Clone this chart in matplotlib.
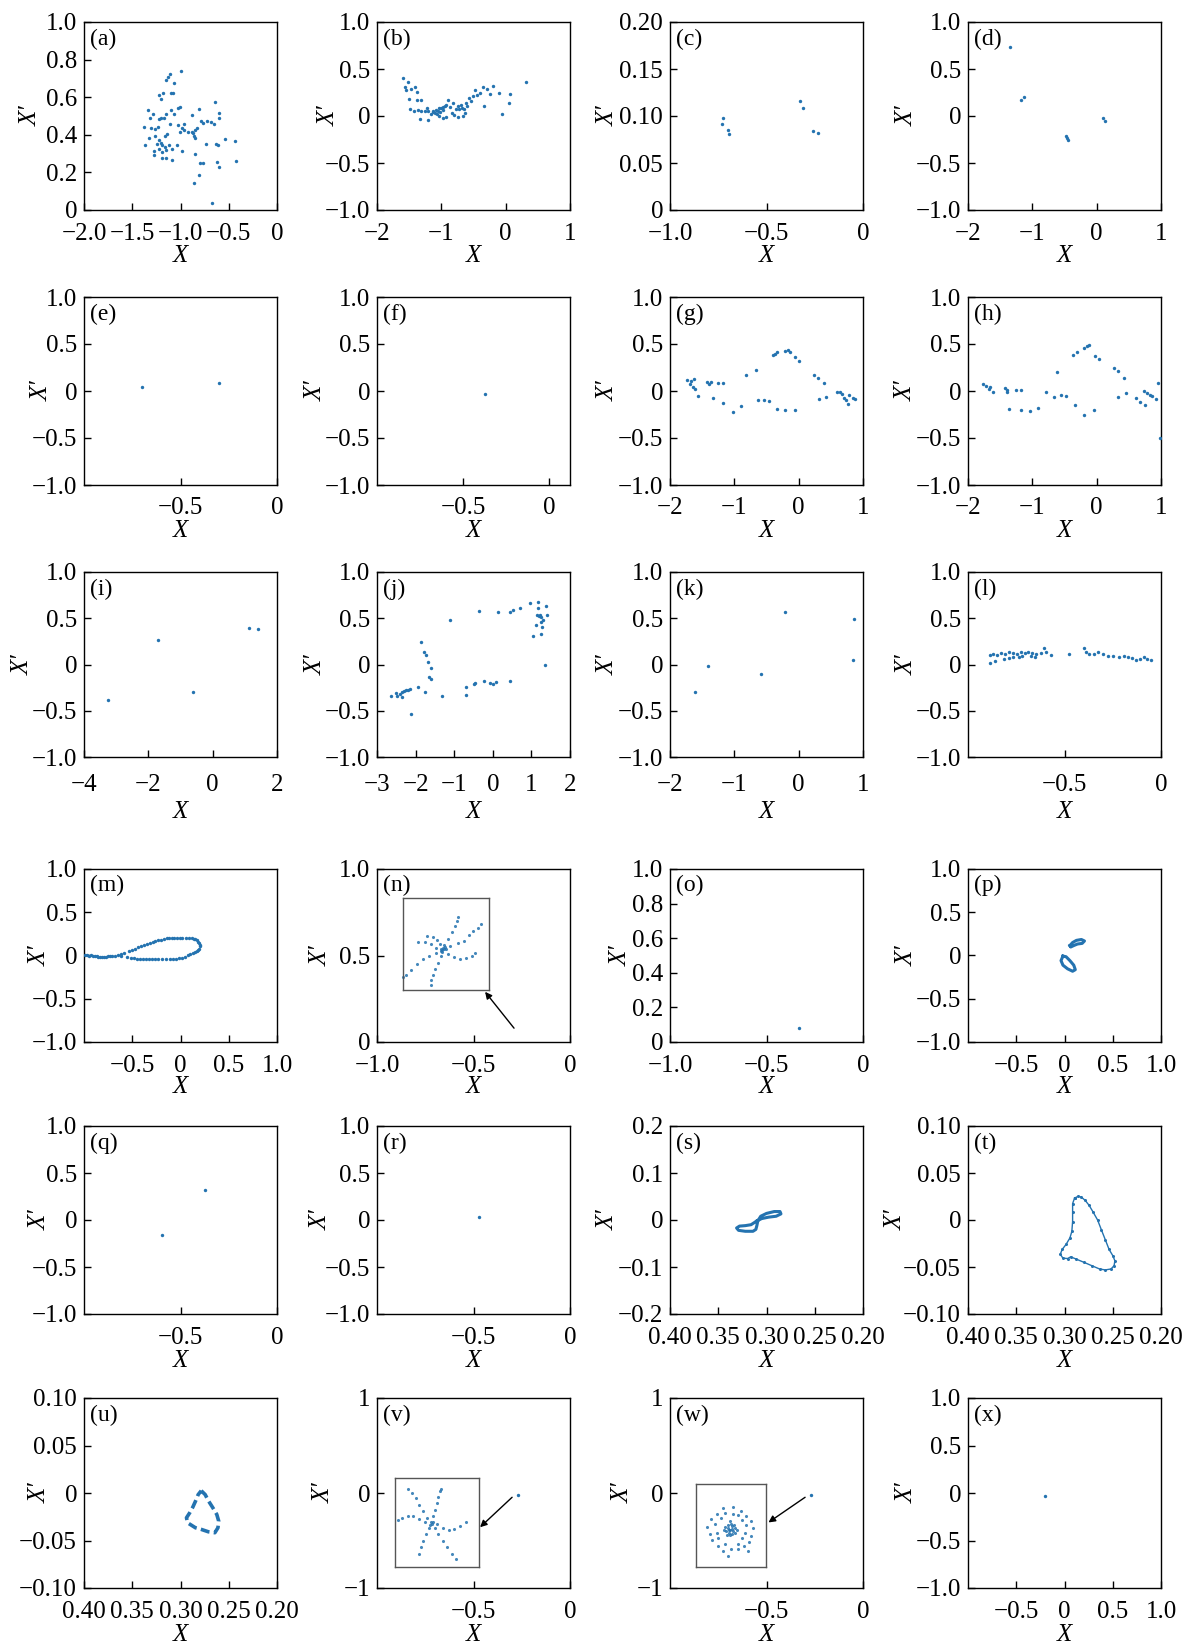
import numpy as np
import matplotlib.pyplot as plt

plt.rcParams["font.family"] = ["Liberation Serif", "DejaVu Serif"]
plt.rcParams["font.size"] = 18
plt.rcParams["axes.unicode_minus"] = True

DOT = "#2473b0"

# ---- data (X, X') ----
a_pts = [(-1.00, 0.738), (-1.147, 0.691), (-1.127, 0.705), (-1.111, 0.722), (-1.066, 0.674),
         (-1.227, 0.613), (-1.179, 0.622), (-1.103, 0.623), (-1.074, 0.625), (-1.203, 0.590),
         (-1.006, 0.547), (-1.026, 0.543), (-1.095, 0.530), (-1.336, 0.530), (-1.28, 0.509),
         (-1.147, 0.512), (-1.066, 0.509), (-0.809, 0.538), (-0.644, 0.573), (-0.604, 0.491),
         (-0.596, 0.517), (-1.316, 0.491), (-1.199, 0.491), (-1.227, 0.483), (-1.175, 0.488),
         (-0.885, 0.505), (-1.107, 0.457), (-1.026, 0.451), (-0.966, 0.460), (-0.789, 0.474),
         (-0.768, 0.465), (-0.724, 0.474), (-0.684, 0.469), (-0.656, 0.457), (-1.376, 0.443),
         (-1.308, 0.434), (-1.235, 0.443), (-1.268, 0.431), (-0.918, 0.413), (-0.885, 0.417),
         (-0.845, 0.427), (-0.825, 0.434), (-0.865, 0.396), (-0.845, 0.382), (-0.873, 0.408),
         (-1.006, 0.417), (-0.966, 0.427), (-1.328, 0.382), (-1.26, 0.396), (-1.163, 0.396),
         (-1.139, 0.405), (-1.227, 0.370), (-1.203, 0.358), (-1.187, 0.344), (-1.159, 0.335),
         (-1.247, 0.349), (-1.227, 0.326), (-1.276, 0.316), (-1.368, 0.347), (-1.115, 0.344),
         (-1.087, 0.323), (-1.038, 0.344), (-0.982, 0.313), (-0.543, 0.378), (-0.435, 0.366),
         (-0.732, 0.349), (-0.636, 0.349), (-0.608, 0.344), (-0.853, 0.297), (-1.147, 0.318),
         (-1.195, 0.306), (-1.276, 0.295), (-1.195, 0.278), (-1.147, 0.274), (-1.087, 0.266),
         (-0.624, 0.257), (-0.604, 0.231), (-0.423, 0.260), (-0.797, 0.252), (-0.765, 0.250),
         (-0.805, 0.188), (-0.857, 0.141), (-0.676, 0.035), (-0.986, 0.434)]

b_pts = [(-1.598, 0.399), (-1.52, 0.358), (-1.55, 0.278), (-1.56, 0.306), (-1.47, 0.285),
         (-1.41, 0.306), (-1.38, 0.26), (-1.50, 0.18), (-1.38, 0.17), (-1.48, 0.07),
         (-1.43, 0.052), (-1.37, 0.062), (-1.31, 0.05), (-1.25, 0.05), (-1.2, 0.05),
         (-1.13, 0.05), (-1.05, 0.05), (-1.33, -0.035), (-1.2, -0.04), (-1.31, 0.17),
         (-1.13, 0.04), (-1.08, 0.06), (-1.04, 0.08), (-1.0, 0.09), (-0.97, 0.1),
         (-0.95, 0.11), (-0.92, 0.12), (-1.1, 0.03), (-1.06, 0.02), (-1.02, 0.04),
         (-0.98, 0.06), (-1.04, 0.0), (-0.98, -0.017), (-0.92, -0.007), (-0.89, 0.17),
         (-0.82, 0.14), (-0.83, 0.035), (-0.77, 0.07), (-0.74, 0.104), (-0.72, 0.07),
         (-0.8, 0.007), (-0.74, -0.007), (-0.66, 0.0), (-0.68, 0.087), (-0.64, 0.07),
         (-0.6, 0.104), (-0.61, 0.14), (-0.57, 0.19), (-0.51, 0.21), (-0.54, 0.156),
         (-0.47, 0.278), (-0.40, 0.25), (-0.35, 0.306), (-0.29, 0.285), (-0.2, 0.32),
         (-0.11, 0.243), (-0.33, 0.11), (-0.05, 0.017), (0.06, 0.236), (0.05, 0.14),
         (0.32, 0.365), (-1.16, 0.02), (-1.22, 0.08), (-0.86, 0.1), (-0.7, 0.12),
         (-0.63, 0.03), (-0.45, 0.22), (-0.25, 0.23)]

c_pts = [(-0.731, 0.0913), (-0.723, 0.098), (-0.697, 0.085), (-0.693, 0.081),
         (-0.327, 0.116), (-0.309, 0.109), (-0.259, 0.084), (-0.235, 0.082)]

d_pts = [(-1.18, 0.17), (-1.13, 0.2), (-0.47, -0.21), (-0.46, -0.23), (-0.45, -0.25),
         (0.1, -0.02), (0.13, -0.05), (-1.35, 0.73)]

e_pts = [(-0.70, 0.045), (-0.30, 0.09)]
f_pts = [(-0.375, -0.03)]

g_pts = [(-1.73, 0.12), (-1.67, 0.11), (-1.63, 0.13), (-1.69, 0.07), (-1.65, 0.045),
         (-1.61, 0.017), (-1.57, -0.05), (-1.42, 0.094), (-1.37, 0.094), (-1.39, 0.07),
         (-1.25, 0.087), (-1.18, 0.087), (-1.33, -0.07), (-1.17, -0.13), (-1.02, -0.22),
         (-0.89, -0.16), (-0.82, 0.17), (-0.66, 0.22), (-0.63, -0.1), (-0.54, -0.1),
         (-0.46, -0.11), (-0.4, 0.38), (-0.37, 0.39), (-0.34, 0.41), (-0.21, 0.43),
         (-0.16, 0.44), (-0.14, 0.42), (-0.05, 0.36), (0.01, 0.32), (-0.33, -0.19),
         (-0.21, -0.2), (-0.06, -0.2), (0.24, 0.17), (0.3, 0.14), (0.40, 0.08),
         (0.31, -0.08), (0.43, -0.06), (0.6, -0.01), (0.64, -0.01), (0.67, -0.035),
         (0.7, -0.07), (0.73, -0.1), (0.76, -0.14), (0.79, -0.045), (0.84, -0.07),
         (0.87, -0.09)]

h_pts = [(-1.77, 0.07), (-1.72, 0.05), (-1.66, 0.045), (-1.67, 0.024), (-1.61, -0.01),
         (-1.43, 0.035), (-1.40, 0.007), (-1.39, -0.01), (-1.25, 0.007), (-1.18, 0.01),
         (-1.36, -0.19), (-1.18, -0.2), (-1.03, -0.21), (-0.91, -0.18), (-0.79, -0.01),
         (-0.67, -0.06), (-0.55, -0.045), (-0.48, -0.05), (-0.62, 0.2), (-0.37, 0.38),
         (-0.31, 0.41), (-0.19, 0.46), (-0.15, 0.48), (-0.12, 0.49), (-0.02, 0.37),
         (0.04, 0.34), (-0.33, -0.15), (-0.19, -0.26), (-0.04, -0.2), (0.27, 0.24),
         (0.33, 0.21), (0.43, 0.14), (0.33, -0.06), (0.46, -0.025), (0.61, -0.07),
         (0.67, -0.12), (0.75, -0.15), (0.73, 0.0), (0.79, -0.02), (0.83, -0.04),
         (0.86, -0.05), (0.93, -0.08), (0.96, 0.09), (0.98, -0.5)]

i_pts = [(-3.25, -0.38), (-1.71, 0.27), (-0.62, -0.30), (1.12, 0.40), (1.40, 0.38)]

j_pts = [(-2.65, -0.34), (-2.5, -0.31), (-2.47, -0.34), (-2.4, -0.32), (-2.35, -0.3),
         (-2.3, -0.29), (-2.25, -0.28), (-2.2, -0.28), (-2.15, -0.27), (-2.35, -0.35),
         (-2.12, -0.54), (-1.95, -0.24), (-1.85, 0.24), (-1.78, 0.13), (-1.73, 0.10),
         (-1.67, 0.03), (-1.6, -0.04), (-1.65, -0.14), (-1.6, -0.16), (-1.75, -0.30),
         (-1.32, -0.34), (-1.1, 0.48), (-0.7, -0.24), (-0.7, -0.33), (-0.5, -0.21),
         (-0.45, -0.2), (-0.23, -0.18), (-0.07, -0.2), (0.0, -0.21), (0.07, -0.19),
         (0.45, -0.18), (-0.37, 0.58), (0.13, 0.57), (0.45, 0.57), (0.53, 0.59),
         (0.7, 0.61), (0.97, 0.66), (1.17, 0.68), (1.17, 0.61), (1.15, 0.53),
         (1.2, 0.52), (1.23, 0.53), (1.25, 0.51), (1.3, 0.48), (1.25, 0.46),
         (1.37, 0.63), (1.4, 0.54), (1.13, 0.43), (1.28, 0.41), (1.05, 0.31),
         (1.25, 0.33), (1.35, -0.01)]

k_pts = [(-1.61, -0.30), (-1.41, -0.02), (-0.58, -0.10), (-0.21, 0.57), (0.86, 0.49), (0.84, 0.045)]

l_pts = [(-0.886, 0.104), (-0.871, 0.115), (-0.851, 0.104), (-0.827, 0.125), (-0.807, 0.115),
         (-0.787, 0.132), (-0.767, 0.125), (-0.747, 0.115), (-0.727, 0.132), (-0.707, 0.122),
         (-0.687, 0.139), (-0.667, 0.125), (-0.647, 0.115), (-0.624, 0.125), (-0.886, 0.02),
         (-0.86, 0.035), (-0.815, 0.055), (-0.79, 0.07), (-0.765, 0.08), (-0.735, 0.08),
         (-0.72, 0.09), (-0.675, 0.09), (-0.655, 0.08), (-0.607, 0.18), (-0.598, 0.13),
         (-0.572, 0.1), (-0.478, 0.115), (-0.398, 0.18), (-0.388, 0.13), (-0.373, 0.115),
         (-0.349, 0.115), (-0.329, 0.13), (-0.299, 0.115), (-0.273, 0.097), (-0.249, 0.09),
         (-0.219, 0.08), (-0.193, 0.09), (-0.169, 0.08), (-0.149, 0.07), (-0.129, 0.045),
         (-0.110, 0.062), (-0.090, 0.08), (-0.070, 0.055), (-0.050, 0.045)]

m_pts = [(-0.99, 0.0), (-0.97, 0.0), (-0.95, -0.005), (-0.93, 0.0), (-0.91, -0.005),
         (-0.89, -0.008), (-0.87, -0.01), (-0.85, -0.012), (-0.83, -0.012), (-0.81, -0.015),
         (-0.79, -0.015), (-0.77, -0.012), (-0.75, -0.01), (-0.73, -0.01), (-0.71, -0.008),
         (-0.68, -0.01), (-0.65, 0.0), (-0.62, 0.015), (-0.59, 0.028), (-0.53, 0.056),
         (-0.50, 0.068), (-0.47, 0.08), (-0.44, 0.093), (-0.41, 0.105), (-0.38, 0.12),
         (-0.35, 0.133), (-0.32, 0.145), (-0.29, 0.157), (-0.26, 0.166), (-0.23, 0.175),
         (-0.20, 0.184), (-0.17, 0.192), (-0.14, 0.197), (-0.115, 0.2), (-0.09, 0.2),
         (-0.066, 0.2), (-0.04, 0.2), (-0.006, 0.2), (0.02, 0.2), (0.054, 0.2),
         (0.085, 0.2), (0.115, 0.197), (0.14, 0.192), (0.155, 0.185), (0.17, 0.174),
         (0.183, 0.16), (0.195, 0.143), (0.203, 0.126), (0.202, 0.105), (0.195, 0.08),
         (0.182, 0.066), (0.167, 0.056), (0.147, 0.042), (0.127, 0.028), (0.1, 0.013),
         (0.074, 0.0), (0.044, -0.012), (0.014, -0.024), (-0.016, -0.03), (-0.046, -0.035),
         (-0.08, -0.04), (-0.107, -0.042), (-0.147, -0.042), (-0.187, -0.042), (-0.228, -0.042),
         (-0.268, -0.042), (-0.298, -0.042), (-0.328, -0.042), (-0.358, -0.042), (-0.388, -0.042),
         (-0.42, -0.038), (-0.449, -0.035), (-0.48, -0.032), (-0.509, -0.028), (-0.557, -0.014),
         (-0.62, -0.007)]

o_pts = [(-0.33, 0.08)]
q_pts = [(-0.598, -0.156), (-0.372, 0.323)]
r_pts = [(-0.47, 0.035)]
v_pts = [(-0.27, -0.02)]
w_pts = [(-0.27, -0.024)]
x_pts = [(-0.2, -0.03)]

# closed orbits
p_loop1 = [(0.056, 0.115), (0.084, 0.150), (0.124, 0.175), (0.175, 0.185), (0.207, 0.168),
           (0.183, 0.140), (0.135, 0.133), (0.096, 0.115), (0.064, 0.098), (0.056, 0.115)]
p_loop2 = [(-0.016, -0.007), (-0.036, -0.059), (-0.016, -0.112), (0.032, -0.154), (0.084, -0.182),
           (0.112, -0.164), (0.096, -0.112), (0.056, -0.059), (0.016, -0.014), (-0.016, -0.007)]

s_curve = [(0.310, -0.002), (0.316, -0.010), (0.322, -0.012), (0.328, -0.013), (0.331, -0.017),
           (0.329, -0.022), (0.322, -0.024), (0.314, -0.024), (0.311, -0.020), (0.310, -0.012),
           (0.309, -0.002), (0.306, 0.008), (0.300, 0.014), (0.292, 0.018), (0.286, 0.018),
           (0.285, 0.013), (0.290, 0.008), (0.298, 0.006), (0.305, 0.003), (0.310, -0.002)]

t_curve = [(0.2896, 0.0233), (0.2857, 0.0253), (0.2825, 0.0243), (0.2785, 0.0208), (0.2745, 0.0156),
           (0.2705, 0.0087), (0.2657, 0.0), (0.2618, -0.0104), (0.2578, -0.0208), (0.2538, -0.0313),
           (0.2498, -0.0382), (0.2478, -0.0434), (0.2486, -0.0486), (0.2518, -0.0521), (0.2578, -0.0531),
           (0.2637, -0.0521), (0.2717, -0.0486), (0.2797, -0.0451), (0.2876, -0.0417), (0.2936, -0.0392),
           (0.2968, -0.041), (0.3016, -0.0406), (0.3044, -0.0365), (0.3024, -0.0313), (0.2984, -0.026),
           (0.2944, -0.0191), (0.2924, -0.0122), (0.2916, -0.0017), (0.2916, 0.0087), (0.2916, 0.0174),
           (0.2896, 0.0233)]

u_curve = [(0.2785, 0.0024), (0.2744, -0.0017), (0.2712, -0.008), (0.2664, -0.0157), (0.2624, -0.0226),
           (0.2604, -0.0296), (0.2612, -0.0366), (0.2644, -0.0418), (0.2712, -0.0408), (0.2785, -0.0383),
           (0.2845, -0.0366), (0.2926, -0.0314), (0.2938, -0.0261), (0.2905, -0.0209), (0.2873, -0.015),
           (0.2845, -0.0087), (0.2817, -0.0017), (0.2785, 0.0024)]

# zoomed insets, points in inset-box fractions
n_arms = [[(0.46, 0.44), (0.48, 0.49), (0.53, 0.56), (0.57, 0.63), (0.61, 0.70), (0.63, 0.75), (0.64, 0.80)],
          [(0.55, 0.48), (0.64, 0.51), (0.71, 0.54), (0.77, 0.60), (0.82, 0.64), (0.87, 0.68), (0.91, 0.72)],
          [(0.53, 0.39), (0.60, 0.36), (0.66, 0.34), (0.73, 0.35), (0.80, 0.37), (0.84, 0.40)],
          [(0.44, 0.37), (0.41, 0.30), (0.37, 0.23), (0.35, 0.17), (0.33, 0.11), (0.33, 0.06)],
          [(0.39, 0.41), (0.30, 0.37), (0.24, 0.34), (0.17, 0.29), (0.10, 0.22), (0.04, 0.17), (0.0, 0.14)],
          [(0.39, 0.46), (0.33, 0.50), (0.26, 0.52), (0.18, 0.52)],
          [(0.43, 0.50), (0.40, 0.55), (0.35, 0.58), (0.28, 0.59)],
          [(0.45, 0.45), (0.47, 0.46), (0.48, 0.45), (0.46, 0.42), (0.44, 0.43), (0.49, 0.47), (0.50, 0.45)]]

v_arms = [[(0.38, 0.55), (0.34, 0.63), (0.29, 0.70), (0.25, 0.77), (0.20, 0.83), (0.15, 0.88)],
          [(0.45, 0.57), (0.48, 0.64), (0.50, 0.72), (0.52, 0.79), (0.54, 0.85), (0.55, 0.88)],
          [(0.50, 0.48), (0.57, 0.44), (0.64, 0.42), (0.71, 0.43), (0.78, 0.46), (0.85, 0.50)],
          [(0.48, 0.44), (0.52, 0.37), (0.57, 0.29), (0.62, 0.22), (0.68, 0.15), (0.73, 0.09)],
          [(0.41, 0.44), (0.37, 0.37), (0.34, 0.29), (0.31, 0.22), (0.29, 0.15)],
          [(0.36, 0.50), (0.29, 0.54), (0.22, 0.57), (0.15, 0.57), (0.08, 0.55), (0.04, 0.53)],
          [(0.43, 0.50), (0.44, 0.48), (0.42, 0.47), (0.45, 0.51)]]

w_arms = [[(0.39, 0.71), (0.53, 0.72), (0.64, 0.68), (0.30, 0.64), (0.42, 0.65), (0.60, 0.63),
           (0.72, 0.62), (0.21, 0.58), (0.35, 0.59), (0.65, 0.57), (0.79, 0.55), (0.16, 0.48),
           (0.27, 0.52), (0.71, 0.50), (0.81, 0.47), (0.20, 0.40), (0.30, 0.41), (0.70, 0.41),
           (0.79, 0.37), (0.23, 0.32), (0.32, 0.35), (0.65, 0.35), (0.75, 0.30), (0.32, 0.25),
           (0.41, 0.28), (0.60, 0.28), (0.68, 0.25), (0.38, 0.19), (0.50, 0.21), (0.60, 0.21),
           (0.74, 0.19), (0.45, 0.13), (0.53, 0.64)],
          [(0.49, 0.45), (0.45, 0.47), (0.53, 0.43), (0.47, 0.41), (0.51, 0.49), (0.43, 0.43),
           (0.55, 0.47), (0.50, 0.52), (0.48, 0.38), (0.42, 0.48), (0.56, 0.41), (0.46, 0.50),
           (0.52, 0.40), (0.40, 0.45), (0.58, 0.45), (0.49, 0.55), (0.44, 0.39), (0.54, 0.51),
           (0.47, 0.44), (0.51, 0.46)]]

# inset box [x0, y0, w, h] in data units, arrow (tail, head)
insets = {
    "n": ([-0.867, 0.30, 0.447, 0.53], n_arms, ((-0.29, 0.08), (-0.44, 0.29))),
    "v": ([-0.906, -0.777, 0.432, 0.934], v_arms, ((-0.30, -0.045), (-0.466, -0.36))),
    "w": ([-0.865, -0.777, 0.363, 0.871], w_arms, ((-0.30, -0.045), (-0.49, -0.31))),
}

# axis settings: (limits, ticks, decimals)
X2 = ((-2, 1), [-2, -1, 0, 1], 0)
X1 = ((-1, 0), [-1, -0.5, 0], 1)
XH = ((-1, 0), [-0.5, 0], 1)
XS = ((-1, 1), [-0.5, 0, 0.5, 1], 1)
XR = ((0.4, 0.2), [0.4, 0.35, 0.3, 0.25, 0.2], 2)
Y1 = ((-1, 1), [-1, -0.5, 0, 0.5, 1], 1)
Y01 = ((0, 1), [0, 0.2, 0.4, 0.6, 0.8, 1.0], 1)
Y01n = ((0, 1), [0, 0.5, 1.0], 1)
Yint = ((-1, 1), [-1, 0, 1], 0)
Ysmall = ((-0.1, 0.1), [-0.1, -0.05, 0, 0.05, 0.1], 2)

panels = [
    ("a", a_pts, ((-2, 0), [-2, -1.5, -1, -0.5, 0], 1), Y01),
    ("b", b_pts, X2, Y1),
    ("c", c_pts, X1, ((0, 0.2), [0, 0.05, 0.1, 0.15, 0.2], 2)),
    ("d", d_pts, X2, Y1),
    ("e", e_pts, XH, Y1),
    ("f", f_pts, ((-1, 0.12), [-0.5, 0], 1), Y1),
    ("g", g_pts, X2, Y1),
    ("h", h_pts, X2, Y1),
    ("i", i_pts, ((-4, 2), [-4, -2, 0, 2], 0), Y1),
    ("j", j_pts, ((-3, 2), [-3, -2, -1, 0, 1, 2], 0), Y1),
    ("k", k_pts, X2, Y1),
    ("l", l_pts, XH, Y1),
    ("m", m_pts, XS, Y1),
    ("n", [], X1, Y01n),
    ("o", o_pts, X1, Y01),
    ("p", [], XS, Y1),
    ("q", q_pts, XH, Y1),
    ("r", r_pts, XH, Y1),
    ("s", [], XR, ((-0.2, 0.2), [-0.2, -0.1, 0, 0.1, 0.2], 1)),
    ("t", [], XR, Ysmall),
    ("u", [], XR, Ysmall),
    ("v", v_pts, XH, Yint),
    ("w", w_pts, XH, Yint),
    ("x", x_pts, XS, Y1),
]

# layout in pixels of the 1186x1650 figure
W, H = 1186, 1650
col_left = [84, 377, 670, 968]
row_top = [22, 297, 572, 869, 1126, 1398]
row_h = [188, 188, 185, 173, 188, 190]
box_w = 193
xtick_pad = [9, 9, 12, 9, 9, 9]
xlab_off = [46, 46, 55, 45, 47, 47]
ylab_off = [53, 48, 62, 61, 42, 61, 62, 62, 61, 61, 62, 61,
            44, 56, 49, 61, 44, 56, 62, 72, 44, 53, 47, 61]


def tick_text(vals, nd):
    out = []
    for v in vals:
        if v == 0:
            out.append("0")
        else:
            out.append(f"{v:.{nd}f}".replace("-", "\u2212"))
    return out


def xy(pts):
    a = np.array(pts, dtype=float)
    return a[:, 0], a[:, 1]


fig = plt.figure(figsize=(W / 100, H / 100), dpi=100)

for k, (name, pts, xs, ys) in enumerate(panels):
    r, c = divmod(k, 4)
    top = row_top[r]
    h = row_h[r]
    ax = fig.add_axes([col_left[c] / W, 1 - (top + h) / H, box_w / W, h / H])

    if pts:
        px, py = xy(pts)
        ax.scatter(px, py, s=6, color=DOT, linewidths=0, zorder=3)

    if name == "p":
        for loop in (p_loop1, p_loop2):
            lx, ly = xy(loop)
            ax.plot(lx, ly, color=DOT, lw=2.2)
    if name == "s":
        lx, ly = xy(s_curve)
        ax.plot(lx, ly, color=DOT, lw=2.2)
    if name == "t":
        lx, ly = xy(t_curve)
        ax.plot(lx, ly, color=DOT, lw=1.0, marker="o", ms=2.2, mew=0)
    if name == "u":
        lx, ly = xy(u_curve)
        ax.plot(lx, ly, color=DOT, lw=2.6, ls=(0, (2.5, 1.2)))

    if name in insets:
        box, arms, (tail, head) = insets[name]
        ins = ax.inset_axes(box, transform=ax.transData)
        ins.set_xlim(0, 1)
        ins.set_ylim(0, 1)
        ins.set_xticks([])
        ins.set_yticks([])
        for sp in ins.spines.values():
            sp.set_color("#555555")
            sp.set_linewidth(1.0)
        for arm in arms:
            axx, ayy = xy(arm)
            ins.scatter(axx, ayy, s=5, color=DOT, alpha=0.85, linewidths=0, clip_on=False)
        ax.annotate("", xy=head, xytext=tail,
                    arrowprops=dict(arrowstyle="-|>", color="black", lw=1.0,
                                    mutation_scale=10, shrinkA=0, shrinkB=0))

    xlim, xt, xnd = xs
    ylim, yt, ynd = ys
    ax.set_xlim(*xlim)
    ax.set_ylim(*ylim)
    ax.set_xticks(xt)
    ax.set_xticklabels(tick_text(xt, xnd))
    ax.set_yticks(yt)
    ax.set_yticklabels(tick_text(yt, ynd))
    ax.tick_params(direction="in", length=5, width=1, top=False, right=False, labelsize=18)
    ax.tick_params(axis="x", pad=xtick_pad[r])
    ax.tick_params(axis="y", pad=5)
    for sp in ax.spines.values():
        sp.set_linewidth(1.0)

    ax.set_xlabel("X", fontstyle="italic", fontsize=18, va="center")
    ax.xaxis.set_label_coords(0.5, -xlab_off[r] / h)
    ax.set_ylabel("X\u2032", fontstyle="italic", fontsize=18, va="center")
    ax.yaxis.set_label_coords(-ylab_off[k] / box_w, 0.5)
    ax.text(0.03, 0.965, f"({name})", transform=ax.transAxes, ha="left", va="top", fontsize=17)

fig.savefig("out.png", dpi=100)
